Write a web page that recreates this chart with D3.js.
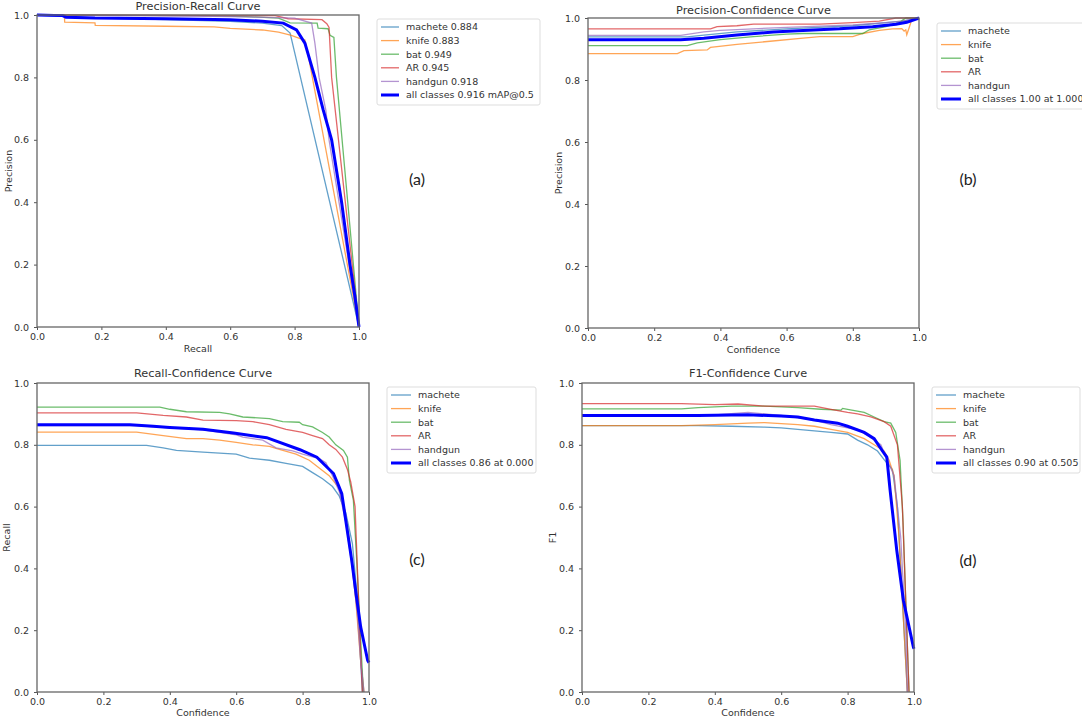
<!DOCTYPE html>
<html>
<head>
<meta charset="utf-8">
<script src="https://cdn.jsdelivr.net/npm/d3@7"></script>
<style>
  html, body { margin: 0; padding: 0; background: #fff; }
  svg { display: block; font-family: "DejaVu Sans", sans-serif; }
  .tick text { fill: #333; }
</style>
</head>
<body>
<div id="chart-container"></div>
<script>
// class names and colours (matplotlib tab10)
const classNames = ["machete", "knife", "bat", "AR", "handgun"];
const classColors = ["#1f77b4", "#ff7f0e", "#2ca02c", "#d62728", "#9467bd"];
const tickValues = [0, 0.2, 0.4, 0.6, 0.8, 1.0];

// (a) precision-recall: [recall, precision]
const prMachete = [[0,1],[0.09,0.995],[0.2,0.99],[0.4,0.985],[0.6,0.98],[0.7,0.974],[0.76,0.966],[0.786,0.942],[1,0]];
const prKnife = [[0,1],[0.085,1],[0.086,0.977],[0.18,0.975],[0.181,0.967],[0.4,0.964],[0.55,0.962],[0.6,0.957],[0.7,0.952],[0.75,0.945],[0.79,0.935],[0.815,0.925],[0.832,0.92],[0.845,0.856],[1,0]];
const prBat = [[0,1],[0.5,0.998],[0.65,0.995],[0.75,0.99],[0.786,0.975],[0.87,0.974],[0.873,0.958],[0.904,0.956],[0.91,0.935],[0.922,0.928],[0.93,0.8],[1,0]];
const prAR = [[0,1],[0.74,0.998],[0.78,0.988],[0.885,0.985],[0.9,0.972],[0.907,0.96],[0.915,0.8],[1,0]];
const prHandgun = [[0,1],[0.3,0.998],[0.6,0.995],[0.8,0.99],[0.853,0.974],[0.863,0.91],[0.876,0.8],[0.897,0.695],[0.907,0.6],[1,0]];
const prAll = [[0,1],[0.08,0.998],[0.09,0.993],[0.18,0.99],[0.4,0.988],[0.6,0.985],[0.7,0.98],[0.765,0.974],[0.806,0.952],[0.832,0.91],[0.863,0.8],[0.889,0.695],[0.915,0.6],[0.946,0.4],[0.972,0.2],[0.987,0.1],[1,0]];

// (b) precision-confidence: [confidence, precision]
const pcMachete = [[0,0.939],[0.3,0.939],[0.35,0.945],[0.45,0.955],[0.6,0.965],[0.8,0.975],[0.9,0.985],[0.95,0.99],[1,1]];
const pcKnife = [[0,0.885],[0.27,0.885],[0.29,0.895],[0.36,0.897],[0.37,0.905],[0.45,0.915],[0.55,0.925],[0.65,0.935],[0.7,0.94],[0.8,0.94],[0.83,0.95],[0.88,0.96],[0.92,0.965],[0.948,0.966],[0.955,0.958],[0.96,0.962],[0.963,0.946],[0.97,0.968],[0.978,0.995],[1,1]];
const pcBat = [[0,0.911],[0.3,0.911],[0.33,0.92],[0.4,0.93],[0.5,0.94],[0.6,0.948],[0.65,0.95],[0.83,0.95],[0.85,0.962],[0.9,0.972],[0.94,0.985],[0.96,1],[1,1]];
const pcAR = [[0,0.965],[0.37,0.965],[0.39,0.972],[0.45,0.975],[0.5,0.98],[0.7,0.98],[0.8,0.985],[0.88,0.99],[0.93,1],[1,1]];
const pcHandgun = [[0,0.944],[0.28,0.944],[0.35,0.955],[0.4,0.96],[0.6,0.97],[0.8,0.978],[0.9,0.985],[0.95,0.99],[1,1]];
const pcAll = [[0,0.93],[0.28,0.93],[0.35,0.935],[0.45,0.945],[0.56,0.955],[0.65,0.96],[0.76,0.965],[0.86,0.972],[0.93,0.98],[0.963,0.986],[1,1]];

// (c) recall-confidence: [confidence, recall]
const rcMachete = [[0,0.798],[0.33,0.798],[0.38,0.79],[0.42,0.782],[0.5,0.776],[0.6,0.77],[0.64,0.757],[0.7,0.75],[0.75,0.74],[0.8,0.73],[0.83,0.71],[0.86,0.69],[0.89,0.665],[0.91,0.635],[0.93,0.58],[0.95,0.48],[0.965,0.3],[0.975,0.1],[0.98,0]];
const rcKnife = [[0,0.841],[0.3,0.841],[0.38,0.83],[0.45,0.82],[0.5,0.82],[0.55,0.815],[0.6,0.808],[0.65,0.8],[0.7,0.795],[0.73,0.785],[0.78,0.77],[0.82,0.75],[0.85,0.725],[0.88,0.7],[0.91,0.66],[0.925,0.6],[0.94,0.5],[0.96,0.3],[0.975,0.1],[0.985,0]];
const rcBat = [[0,0.922],[0.37,0.922],[0.4,0.915],[0.45,0.907],[0.55,0.905],[0.58,0.9],[0.62,0.89],[0.7,0.885],[0.74,0.875],[0.79,0.873],[0.8,0.865],[0.83,0.858],[0.86,0.84],[0.88,0.825],[0.9,0.8],[0.923,0.782],[0.935,0.76],[0.941,0.685],[0.953,0.62],[0.963,0.426],[0.973,0.21],[0.983,0]];
const rcAR = [[0,0.903],[0.3,0.903],[0.38,0.895],[0.45,0.89],[0.5,0.88],[0.6,0.878],[0.65,0.875],[0.7,0.865],[0.75,0.85],[0.8,0.84],[0.83,0.83],[0.86,0.82],[0.88,0.8],[0.9,0.785],[0.92,0.76],[0.935,0.72],[0.945,0.68],[0.958,0.6],[0.965,0.4],[0.972,0.2],[0.98,0]];
const rcHandgun = [[0,0.862],[0.3,0.862],[0.4,0.855],[0.5,0.848],[0.6,0.832],[0.62,0.825],[0.68,0.815],[0.72,0.79],[0.77,0.78],[0.8,0.77],[0.85,0.755],[0.87,0.742],[0.89,0.7],[0.91,0.65],[0.93,0.55],[0.95,0.4],[0.965,0.25],[0.975,0.1],[0.985,0]];
const rcAll = [[0,0.865],[0.28,0.865],[0.35,0.86],[0.4,0.856],[0.5,0.85],[0.592,0.838],[0.692,0.823],[0.792,0.784],[0.843,0.76],[0.893,0.707],[0.908,0.669],[0.918,0.642],[0.933,0.534],[0.948,0.426],[0.961,0.318],[0.975,0.21],[0.996,0.102],[1,0.095]];

// (d) F1-confidence: [confidence, F1]
const f1Machete = [[0,0.862],[0.35,0.862],[0.45,0.86],[0.55,0.857],[0.6,0.855],[0.65,0.85],[0.7,0.845],[0.75,0.84],[0.8,0.835],[0.83,0.815],[0.86,0.8],[0.89,0.78],[0.91,0.752],[0.935,0.72],[0.95,0.6],[0.96,0.4],[0.975,0.1],[0.98,0]];
const f1Knife = [[0,0.862],[0.3,0.862],[0.4,0.865],[0.5,0.87],[0.55,0.872],[0.65,0.865],[0.7,0.86],[0.75,0.85],[0.8,0.84],[0.85,0.82],[0.88,0.8],[0.91,0.78],[0.925,0.75],[0.94,0.7],[0.955,0.5],[0.965,0.3],[0.98,0]];
const f1Bat = [[0,0.916],[0.3,0.916],[0.35,0.92],[0.45,0.925],[0.55,0.925],[0.65,0.92],[0.72,0.915],[0.78,0.912],[0.785,0.918],[0.8,0.915],[0.85,0.905],[0.88,0.89],[0.91,0.875],[0.93,0.87],[0.945,0.84],[0.958,0.75],[0.967,0.55],[0.975,0.3],[0.985,0]];
const f1AR = [[0,0.933],[0.3,0.933],[0.4,0.93],[0.47,0.932],[0.55,0.925],[0.7,0.925],[0.75,0.915],[0.8,0.905],[0.83,0.9],[0.87,0.89],[0.91,0.875],[0.93,0.86],[0.95,0.8],[0.965,0.6],[0.975,0.3],[0.985,0]];
const f1Handgun = [[0,0.895],[0.4,0.897],[0.5,0.905],[0.6,0.895],[0.7,0.88],[0.75,0.865],[0.8,0.855],[0.83,0.85],[0.86,0.83],[0.9,0.8],[0.92,0.75],[0.94,0.7],[0.96,0.5],[0.975,0.2],[0.98,0]];
const f1All = [[0,0.895],[0.35,0.895],[0.5,0.897],[0.6,0.893],[0.65,0.89],[0.7,0.88],[0.77,0.87],[0.8,0.86],[0.85,0.84],[0.88,0.82],[0.905,0.78],[0.918,0.76],[0.928,0.653],[0.948,0.459],[0.968,0.297],[0.998,0.146],[1,0.14]];

// legend texts
const prLabels = ["machete 0.884", "knife 0.883", "bat 0.949", "AR 0.945", "handgun 0.918", "all classes 0.916 mAP@0.5"];
const pcLabels = ["machete", "knife", "bat", "AR", "handgun", "all classes 1.00 at 1.000"];
const rcLabels = ["machete", "knife", "bat", "AR", "handgun", "all classes 0.86 at 0.000"];
const f1Labels = ["machete", "knife", "bat", "AR", "handgun", "all classes 0.90 at 0.505"];

const panels = [
  { title: "Precision-Recall Curve", xLabel: "Recall", yLabel: "Precision", tag: "(a)",
    box: { left: 37, right: 359, top: 15, bottom: 327 }, titleY: 10, xLabelY: 352, yLabelX: 9,
    legend: { x: 377, y: 19, w: 163, lineW: 18 }, tagPos: [417, 185],
    series: [prMachete, prKnife, prBat, prAR, prHandgun], all: prAll, labels: prLabels },
  { title: "Precision-Confidence Curve", xLabel: "Confidence", yLabel: "Precision", tag: "(b)",
    box: { left: 588, right: 919, top: 18, bottom: 328 }, titleY: 14, xLabelY: 353, yLabelX: 559,
    legend: { x: 937, y: 23, w: 150, lineW: 20 }, tagPos: [968, 185],
    series: [pcMachete, pcKnife, pcBat, pcAR, pcHandgun], all: pcAll, labels: pcLabels },
  { title: "Recall-Confidence Curve", xLabel: "Confidence", yLabel: "Recall", tag: "(c)",
    box: { left: 37, right: 369, top: 383, bottom: 692 }, titleY: 377, xLabelY: 716, yLabelX: 7,
    legend: { x: 387, y: 387, w: 149, lineW: 20 }, tagPos: [417, 565],
    series: [rcMachete, rcKnife, rcBat, rcAR, rcHandgun], all: rcAll, labels: rcLabels },
  { title: "F1-Confidence Curve", xLabel: "Confidence", yLabel: "F1", tag: "(d)",
    box: { left: 582, right: 914, top: 383, bottom: 692 }, titleY: 377, xLabelY: 716, yLabelX: 553,
    legend: { x: 932, y: 387, w: 148, lineW: 20 }, tagPos: [968, 566],
    series: [f1Machete, f1Knife, f1Bat, f1AR, f1Handgun], all: f1All, labels: f1Labels }
];

const width = 1082;
const height = 718;

const svg = d3.select("#chart-container")
  .append("svg")
  .attr("width", width)
  .attr("height", height);

function drawPanel(p) {
  const g = svg.append("g");
  const b = p.box;

  const xScale = d3.scaleLinear().domain([0, 1]).range([b.left, b.right]);
  const yScale = d3.scaleLinear().domain([0, 1]).range([b.bottom, b.top]);

  const line = d3.line()
    .x((d) => xScale(d[0]))
    .y((d) => yScale(d[1]));

  // class curves
  p.series.forEach((s, i) => {
    g.append("path")
      .datum(s)
      .attr("d", line)
      .attr("fill", "none")
      .attr("stroke", classColors[i])
      .attr("stroke-opacity", 0.7)
      .attr("stroke-width", 1.3);
  });

  // all classes
  g.append("path")
    .datum(p.all)
    .attr("d", line)
    .attr("fill", "none")
    .attr("stroke", "#0000ff")
    .attr("stroke-width", 3);

  // axes
  const fmt = d3.format(".1f");
  const xAxis = g.append("g")
    .attr("transform", `translate(0, ${b.bottom})`)
    .call(d3.axisBottom(xScale).tickValues(tickValues).tickFormat(fmt).tickSize(3).tickPadding(3));
  const yAxis = g.append("g")
    .attr("transform", `translate(${b.left}, 0)`)
    .call(d3.axisLeft(yScale).tickValues(tickValues).tickFormat(fmt).tickSize(3).tickPadding(5));
  [xAxis, yAxis].forEach((ax) => {
    ax.select(".domain").remove();
    ax.selectAll(".tick line").attr("stroke", "#555");
    ax.selectAll(".tick text").attr("font-size", 9.5).attr("font-family", "DejaVu Sans");
  });

  // frame
  g.append("rect")
    .attr("x", b.left)
    .attr("y", b.top)
    .attr("width", b.right - b.left)
    .attr("height", b.bottom - b.top)
    .attr("fill", "none")
    .attr("stroke", "#666")
    .attr("stroke-width", 1.3);

  // title and labels
  g.append("text")
    .attr("x", (b.left + b.right) / 2)
    .attr("y", p.titleY)
    .attr("text-anchor", "middle")
    .attr("font-size", 11.3)
    .attr("fill", "#333")
    .text(p.title);

  g.append("text")
    .attr("x", (b.left + b.right) / 2)
    .attr("y", p.xLabelY)
    .attr("text-anchor", "middle")
    .attr("font-size", 9.5)
    .attr("fill", "#333")
    .text(p.xLabel);

  g.append("text")
    .attr("transform", `translate(${p.yLabelX}, ${(b.top + b.bottom) / 2}) rotate(-90)`)
    .attr("text-anchor", "middle")
    .attr("dy", "0.35em")
    .attr("font-size", 9.5)
    .attr("fill", "#333")
    .text(p.yLabel);

  // legend
  const lg = p.legend;
  const rowH = 13.6;
  const legend = g.append("g").attr("transform", `translate(${lg.x}, ${lg.y})`);
  legend.append("rect")
    .attr("width", lg.w)
    .attr("height", 86)
    .attr("rx", 2)
    .attr("fill", "#fff")
    .attr("stroke", "#ddd");

  p.labels.forEach((label, i) => {
    const y = 8 + i * rowH;
    const isAll = i === p.labels.length - 1;
    legend.append("line")
      .attr("x1", 4)
      .attr("x2", 4 + lg.lineW)
      .attr("y1", y)
      .attr("y2", y)
      .attr("stroke", isAll ? "#0000ff" : classColors[i])
      .attr("stroke-opacity", isAll ? 1 : 0.7)
      .attr("stroke-width", isAll ? 3 : 1.3);
    legend.append("text")
      .attr("x", 4 + lg.lineW + 7)
      .attr("y", y)
      .attr("dy", "0.35em")
      .attr("font-size", 9.5)
      .attr("fill", "#333")
      .text(label);
  });

  // panel tag
  g.append("text")
    .attr("x", p.tagPos[0])
    .attr("y", p.tagPos[1])
    .attr("text-anchor", "middle")
    .attr("font-family", "Lato, 'Open Sans', sans-serif")
    .attr("font-size", 16)
    .attr("fill", "#222")
    .text(p.tag);
}

panels.forEach(drawPanel);
</script>
</body>
</html>
